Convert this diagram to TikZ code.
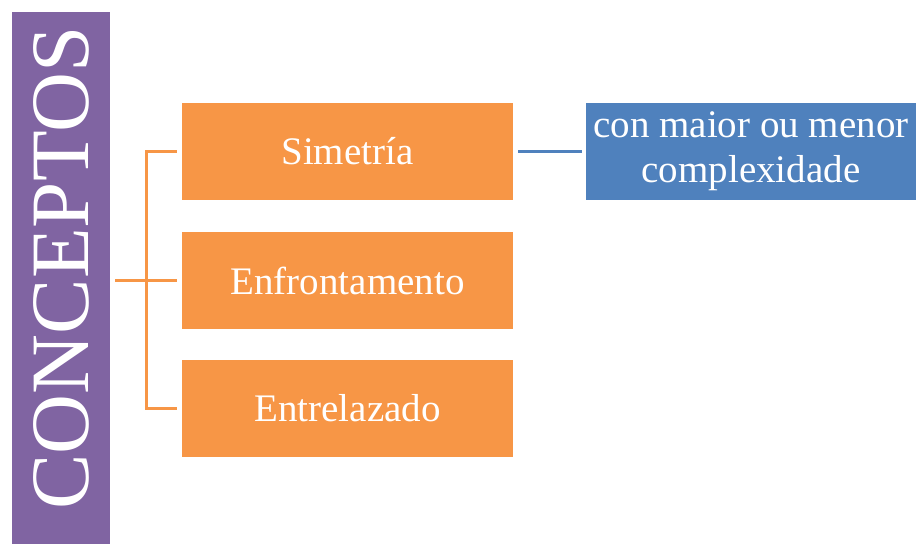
\documentclass[tikz,border=0pt]{standalone}
\usepackage{fontspec}
\setmainfont{Liberation Serif}
\usetikzlibrary{calc}
\definecolor{cpurple}{RGB}{128,100,162}
\definecolor{corange}{RGB}{247,150,70}
\definecolor{cblue}{RGB}{79,129,189}

\begin{document}
\begin{tikzpicture}[x=1pt,y=-1pt,
  box/.style={fill=corange,text=white,minimum width=331pt,minimum height=97pt,
    inner sep=0pt,font=\fontsize{39}{45}\selectfont},
  link/.style={draw=corange,line width=2.8pt}]
\useasboundingbox (0,0) rectangle (916,544);

%Title bar:
\node[fill=cpurple,text=white,rotate=90,minimum width=532pt,minimum height=98pt,
  inner sep=0pt,font=\fontsize{83}{90}\selectfont] (concepts) at (61,278) {\hspace*{20pt}CONCEPTOS};

%Branches:
\node[box] (simetria) at (347.5,151.5) {Simetría};
\node[box] (enfront) at (347.5,280.5) {Enfrontamento};
\node[box] (entrelaz) at (347.5,408.5) {Entrelazado};
\node[box,fill=cblue,minimum width=330pt,align=center,
  font=\fontsize{39}{45}\selectfont] (complex) at (751,151.5) {con maior ou menor\\complexidade};

%Connectors:
\coordinate (hub) at ($(enfront.west)+(-35,0)$);
\draw[link] ($(concepts.south |- enfront.west)+(5,0)$) -- ($(enfront.west)+(-5,0)$);
\draw[link] ($(simetria.west)+(-5,0)$) -| (hub) |- ($(entrelaz.west)+(-5,0)$);
\draw[draw=cblue,line width=2.8pt] ($(simetria.east)+(5,0)$) -- ($(complex.west)+(-4,0)$);

\end{tikzpicture}
\end{document}
